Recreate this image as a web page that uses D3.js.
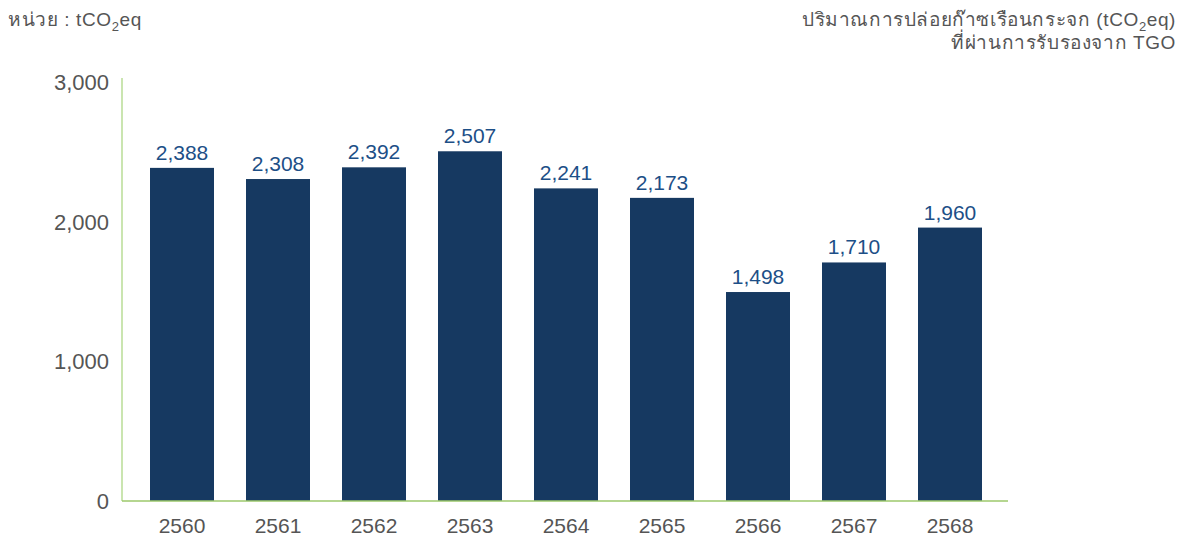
<!DOCTYPE html>
<html>
<head>
<meta charset="utf-8">
<script src="https://cdn.jsdelivr.net/npm/d3@7/dist/d3.min.js"></script>
<style>
  html, body { margin: 0; padding: 0; background: #fff; }
  svg { display: block; font-family: "Liberation Sans", "Noto Sans", Arial, sans-serif; }
</style>
</head>
<body>
<svg id="chart" width="1179" height="538"></svg>
<script>
// Greenhouse gas emissions by Thai Buddhist-era year
const years = ["2560", "2561", "2562", "2563", "2564", "2565", "2566", "2567", "2568"];
const emissions = [2388, 2308, 2392, 2507, 2241, 2173, 1498, 1710, 1960];
const yTicks = [0, 1000, 2000, 3000];

const svg = d3.select("#chart");
const fmt = d3.format(",");

const x = d3.scaleBand()
  .domain(years)
  .range([134, 998])
  .paddingInner(1 / 3)
  .paddingOuter(1 / 6);

const y = d3.scaleLinear()
  .domain([0, 3000])
  .range([501, 82.5]);

// bars
svg.append("g")
  .selectAll("rect")
  .data(years)
  .join("rect")
  .attr("x", d => x(d))
  .attr("y", (d, i) => y(emissions[i]))
  .attr("width", x.bandwidth())
  .attr("height", (d, i) => y(0) - y(emissions[i]))
  .attr("fill", "#163961");

// value labels
svg.append("g")
  .selectAll("text")
  .data(years)
  .join("text")
  .attr("x", d => x(d) + x.bandwidth() / 2)
  .attr("y", (d, i) => y(emissions[i]) - 8)
  .attr("text-anchor", "middle")
  .attr("font-size", 21)
  .attr("fill", "#1d4f87")
  .text((d, i) => fmt(emissions[i]));

// y axis
const yAxis = svg.append("g")
  .attr("transform", "translate(122,0)")
  .call(d3.axisLeft(y).tickValues(yTicks).tickFormat(fmt).tickSize(0).tickPadding(13));
yAxis.select(".domain").attr("stroke", "#b9dc96").attr("stroke-width", 1.5)
  .attr("d", `M0,78V${y(0)}`);
yAxis.selectAll("text").attr("font-size", 22).attr("fill", "#555").attr("font-family", null);

// x axis
const xAxis = svg.append("g")
  .attr("transform", `translate(0,${y(0)})`)
  .call(d3.axisBottom(x).tickSize(0).tickPadding(17));
xAxis.select(".domain").attr("stroke", "#9cc96b").attr("stroke-width", 1.5)
  .attr("d", "M122,0H1008");
xAxis.selectAll("text").attr("font-size", 21).attr("fill", "#555").attr("font-family", null);

// unit note, top left
const unit = svg.append("text")
  .attr("x", 8).attr("y", 26)
  .attr("font-size", 19).attr("letter-spacing", 0.6).attr("fill", "#555");
unit.append("tspan").text("หน่วย : tCO");
unit.append("tspan").attr("font-size", 13).attr("dy", 5).text("2");
unit.append("tspan").attr("dy", -5).text("eq");

// chart title, top right
const t1 = svg.append("text")
  .attr("x", 1176).attr("y", 26)
  .attr("text-anchor", "end")
  .attr("font-size", 19).attr("letter-spacing", 0.6).attr("fill", "#555");
t1.append("tspan").text("ปริมาณการปล่อยก๊าซเรือนกระจก (tCO");
t1.append("tspan").attr("font-size", 13).attr("dy", 5).text("2");
t1.append("tspan").attr("dy", -5).text("eq)");

svg.append("text")
  .attr("x", 1176).attr("y", 49)
  .attr("text-anchor", "end")
  .attr("font-size", 19).attr("letter-spacing", 0.6).attr("fill", "#555")
  .text("ที่ผ่านการรับรองจาก TGO");
</script>
</body>
</html>
